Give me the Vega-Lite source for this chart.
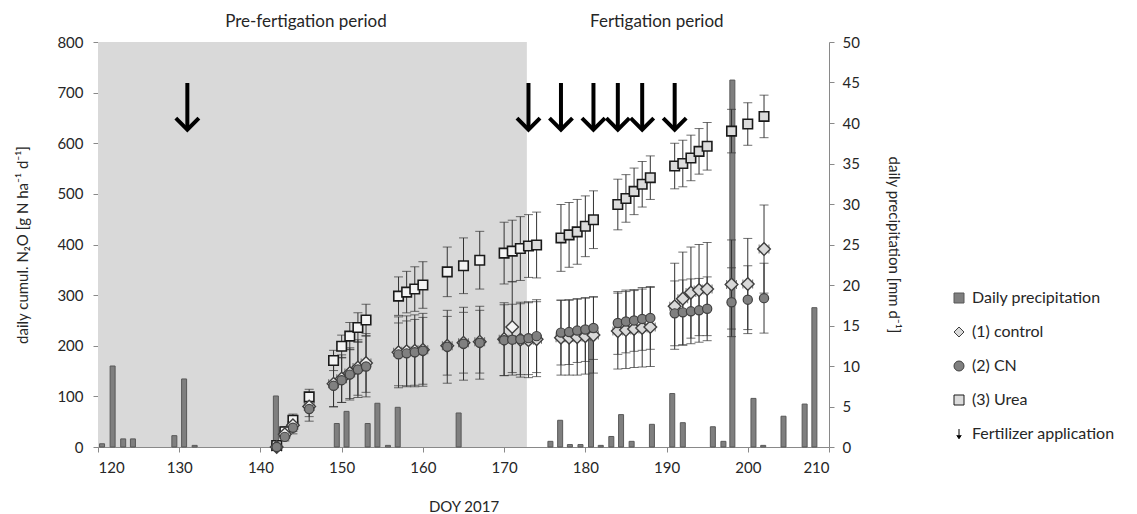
{
  "$schema": "https://vega.github.io/schema/vega-lite/v6.json",
  "width": 731,
  "height": 405,
  "autosize": {"type": "none"},
  "padding": {"left": 98, "top": 42, "right": 308, "bottom": 67},
  "background": "white",
  "config": {
    "font": "Lato",
    "view": {"stroke": null},
    "axis": {"grid": false, "labelFont": "Lato", "labelFontSize": 15, "titleFont": "Lato", "titleFontSize": 15, "titleFontWeight": "normal", "labelColor": "#262626", "titleColor": "#262626", "domainColor": "#898989", "tickColor": "#898989", "tickSize": 5},
    "legend": {"orient": "none", "legendX": 853, "legendY": 248, "padding": 0, "labelFont": "Lato", "labelFontSize": 16, "labelColor": "#262626", "symbolSize": 100, "rowPadding": 18, "labelOffset": 5, "symbolStrokeWidth": 1}
  },
  "datasets": {
    "periods": [{"start": 120, "end": 172.8}],
    "arrows": [{"day": 131}, {"day": 173}, {"day": 177}, {"day": 181}, {"day": 184}, {"day": 187}, {"day": 191}],
    "labels": [{"label": "Pre-fertigation period", "day": 145.6}, {"label": "Fertigation period", "day": 188.8}],
    "precip": [
      {"day": 120.5, "mm": 0.4}, {"day": 121.8, "mm": 10}, {"day": 123.1, "mm": 1}, {"day": 124.3, "mm": 1},
      {"day": 129.4, "mm": 1.4}, {"day": 130.6, "mm": 8.4}, {"day": 131.9, "mm": 0.2}, {"day": 141.9, "mm": 6.3},
      {"day": 149.4, "mm": 2.9}, {"day": 150.6, "mm": 4.4}, {"day": 153.2, "mm": 2.9}, {"day": 154.4, "mm": 5.4},
      {"day": 155.7, "mm": 0.2}, {"day": 156.9, "mm": 4.9}, {"day": 164.4, "mm": 4.2}, {"day": 175.7, "mm": 0.7},
      {"day": 176.9, "mm": 3.3}, {"day": 178.1, "mm": 0.3}, {"day": 179.4, "mm": 0.3}, {"day": 180.7, "mm": 13.6},
      {"day": 181.9, "mm": 0.2}, {"day": 183.2, "mm": 1.3}, {"day": 184.4, "mm": 4}, {"day": 185.7, "mm": 0.7},
      {"day": 188.2, "mm": 2.8}, {"day": 190.7, "mm": 6.6}, {"day": 192, "mm": 3}, {"day": 195.7, "mm": 2.5},
      {"day": 197, "mm": 0.7}, {"day": 198.1, "mm": 45.3}, {"day": 200.7, "mm": 6}, {"day": 201.9, "mm": 0.2},
      {"day": 204.4, "mm": 3.8}, {"day": 207, "mm": 5.3}, {"day": 208.2, "mm": 17.2}
    ],
    "n2o": [
      {"day": 142, "series": "(3) Urea", "value": 3, "err": 5},
      {"day": 143, "series": "(3) Urea", "value": 30, "err": 10},
      {"day": 144, "series": "(3) Urea", "value": 53, "err": 12},
      {"day": 146, "series": "(3) Urea", "value": 99, "err": 15},
      {"day": 149, "series": "(3) Urea", "value": 171, "err": 20},
      {"day": 150, "series": "(3) Urea", "value": 199, "err": 22},
      {"day": 151, "series": "(3) Urea", "value": 219, "err": 27},
      {"day": 152, "series": "(3) Urea", "value": 236, "err": 29},
      {"day": 153, "series": "(3) Urea", "value": 251, "err": 31},
      {"day": 157, "series": "(3) Urea", "value": 298, "err": 38},
      {"day": 158, "series": "(3) Urea", "value": 306, "err": 41},
      {"day": 159, "series": "(3) Urea", "value": 312, "err": 44},
      {"day": 160, "series": "(3) Urea", "value": 320, "err": 46},
      {"day": 163, "series": "(3) Urea", "value": 346, "err": 49},
      {"day": 165, "series": "(3) Urea", "value": 358, "err": 55},
      {"day": 167, "series": "(3) Urea", "value": 369, "err": 57},
      {"day": 170, "series": "(3) Urea", "value": 383, "err": 61},
      {"day": 171, "series": "(3) Urea", "value": 387, "err": 61},
      {"day": 172, "series": "(3) Urea", "value": 392, "err": 63},
      {"day": 173, "series": "(3) Urea", "value": 397, "err": 62},
      {"day": 174, "series": "(3) Urea", "value": 399, "err": 65},
      {"day": 177, "series": "(3) Urea", "value": 413, "err": 66},
      {"day": 178, "series": "(3) Urea", "value": 419, "err": 64},
      {"day": 179, "series": "(3) Urea", "value": 425, "err": 64},
      {"day": 180, "series": "(3) Urea", "value": 436, "err": 60},
      {"day": 181, "series": "(3) Urea", "value": 449, "err": 57},
      {"day": 184, "series": "(3) Urea", "value": 479, "err": 50},
      {"day": 185, "series": "(3) Urea", "value": 491, "err": 47},
      {"day": 186, "series": "(3) Urea", "value": 505, "err": 46},
      {"day": 187, "series": "(3) Urea", "value": 519, "err": 45},
      {"day": 188, "series": "(3) Urea", "value": 532, "err": 43},
      {"day": 191, "series": "(3) Urea", "value": 555, "err": 45},
      {"day": 192, "series": "(3) Urea", "value": 560, "err": 46},
      {"day": 193, "series": "(3) Urea", "value": 571, "err": 45},
      {"day": 194, "series": "(3) Urea", "value": 584, "err": 45},
      {"day": 195, "series": "(3) Urea", "value": 594, "err": 47},
      {"day": 198, "series": "(3) Urea", "value": 624, "err": 43},
      {"day": 200, "series": "(3) Urea", "value": 638, "err": 42},
      {"day": 202, "series": "(3) Urea", "value": 653, "err": 42},
      {"day": 142, "series": "(2) CN", "value": 0, "err": 3},
      {"day": 143, "series": "(2) CN", "value": 20, "err": 8},
      {"day": 144, "series": "(2) CN", "value": 38, "err": 12},
      {"day": 146, "series": "(2) CN", "value": 75, "err": 24},
      {"day": 149, "series": "(2) CN", "value": 121, "err": 42},
      {"day": 150, "series": "(2) CN", "value": 132, "err": 44},
      {"day": 151, "series": "(2) CN", "value": 143, "err": 50},
      {"day": 152, "series": "(2) CN", "value": 153, "err": 55},
      {"day": 153, "series": "(2) CN", "value": 159, "err": 60},
      {"day": 157, "series": "(2) CN", "value": 183, "err": 62},
      {"day": 158, "series": "(2) CN", "value": 185, "err": 64},
      {"day": 159, "series": "(2) CN", "value": 187, "err": 65},
      {"day": 160, "series": "(2) CN", "value": 190, "err": 66},
      {"day": 163, "series": "(2) CN", "value": 198, "err": 72},
      {"day": 165, "series": "(2) CN", "value": 204, "err": 72},
      {"day": 167, "series": "(2) CN", "value": 206, "err": 72},
      {"day": 170, "series": "(2) CN", "value": 211, "err": 70},
      {"day": 171, "series": "(2) CN", "value": 212, "err": 70},
      {"day": 172, "series": "(2) CN", "value": 213, "err": 70},
      {"day": 173, "series": "(2) CN", "value": 215, "err": 72},
      {"day": 174, "series": "(2) CN", "value": 219, "err": 72},
      {"day": 177, "series": "(2) CN", "value": 226, "err": 64},
      {"day": 178, "series": "(2) CN", "value": 227, "err": 64},
      {"day": 179, "series": "(2) CN", "value": 230, "err": 63},
      {"day": 180, "series": "(2) CN", "value": 232, "err": 63},
      {"day": 181, "series": "(2) CN", "value": 235, "err": 62},
      {"day": 184, "series": "(2) CN", "value": 245, "err": 62},
      {"day": 185, "series": "(2) CN", "value": 248, "err": 62},
      {"day": 186, "series": "(2) CN", "value": 250, "err": 61},
      {"day": 187, "series": "(2) CN", "value": 253, "err": 62},
      {"day": 188, "series": "(2) CN", "value": 255, "err": 62},
      {"day": 191, "series": "(2) CN", "value": 264, "err": 64},
      {"day": 192, "series": "(2) CN", "value": 266, "err": 64},
      {"day": 193, "series": "(2) CN", "value": 268, "err": 64},
      {"day": 194, "series": "(2) CN", "value": 270, "err": 63},
      {"day": 195, "series": "(2) CN", "value": 273, "err": 63},
      {"day": 198, "series": "(2) CN", "value": 286, "err": 68},
      {"day": 200, "series": "(2) CN", "value": 291, "err": 67},
      {"day": 202, "series": "(2) CN", "value": 294, "err": 69},
      {"day": 142, "series": "(1) control", "value": 0, "err": 3, "xerr": 0.6},
      {"day": 143, "series": "(1) control", "value": 25, "err": 8, "xerr": 0.6},
      {"day": 144, "series": "(1) control", "value": 43, "err": 12, "xerr": 0.6},
      {"day": 146, "series": "(1) control", "value": 80, "err": 20, "xerr": 0.6},
      {"day": 149, "series": "(1) control", "value": 125, "err": 45, "xerr": 0.6},
      {"day": 150, "series": "(1) control", "value": 135, "err": 47, "xerr": 0.6},
      {"day": 151, "series": "(1) control", "value": 146, "err": 50, "xerr": 0.6},
      {"day": 152, "series": "(1) control", "value": 157, "err": 55, "xerr": 0.6},
      {"day": 153, "series": "(1) control", "value": 166, "err": 58, "xerr": 0.6},
      {"day": 157, "series": "(1) control", "value": 187, "err": 70, "xerr": 0.6},
      {"day": 158, "series": "(1) control", "value": 189, "err": 70, "xerr": 0.6},
      {"day": 159, "series": "(1) control", "value": 190, "err": 71, "xerr": 0.6},
      {"day": 160, "series": "(1) control", "value": 192, "err": 72, "xerr": 0.6},
      {"day": 163, "series": "(1) control", "value": 200, "err": 58, "xerr": 0.6},
      {"day": 165, "series": "(1) control", "value": 206, "err": 60, "xerr": 0.6},
      {"day": 167, "series": "(1) control", "value": 208, "err": 62, "xerr": 0.6},
      {"day": 170, "series": "(1) control", "value": 213, "err": 72, "xerr": 0.6},
      {"day": 171, "series": "(1) control", "value": 237, "err": 90, "xerr": 0},
      {"day": 172, "series": "(1) control", "value": 212, "err": 74, "xerr": 0.6},
      {"day": 173, "series": "(1) control", "value": 211, "err": 74, "xerr": 0.6},
      {"day": 174, "series": "(1) control", "value": 213, "err": 74, "xerr": 0.6},
      {"day": 177, "series": "(1) control", "value": 216, "err": 74, "xerr": 0.6},
      {"day": 178, "series": "(1) control", "value": 216, "err": 74, "xerr": 0.6},
      {"day": 179, "series": "(1) control", "value": 217, "err": 75, "xerr": 0.6},
      {"day": 180, "series": "(1) control", "value": 219, "err": 75, "xerr": 0.6},
      {"day": 181, "series": "(1) control", "value": 221, "err": 75, "xerr": 0.6},
      {"day": 184, "series": "(1) control", "value": 229, "err": 75, "xerr": 0.6},
      {"day": 185, "series": "(1) control", "value": 231, "err": 76, "xerr": 0.6},
      {"day": 186, "series": "(1) control", "value": 233, "err": 76, "xerr": 0.6},
      {"day": 187, "series": "(1) control", "value": 235, "err": 77, "xerr": 0.6},
      {"day": 188, "series": "(1) control", "value": 237, "err": 78, "xerr": 0.6},
      {"day": 191, "series": "(1) control", "value": 278, "err": 85, "xerr": 0.6},
      {"day": 192, "series": "(1) control", "value": 293, "err": 92, "xerr": 0.6},
      {"day": 193, "series": "(1) control", "value": 305, "err": 90, "xerr": 0.6},
      {"day": 194, "series": "(1) control", "value": 310, "err": 90, "xerr": 0.6},
      {"day": 195, "series": "(1) control", "value": 312, "err": 92, "xerr": 0.6},
      {"day": 198, "series": "(1) control", "value": 321, "err": 88, "xerr": 0.6},
      {"day": 200, "series": "(1) control", "value": 322, "err": 90, "xerr": 0.6},
      {"day": 202, "series": "(1) control", "value": 391, "err": 87, "xerr": 0.6}
    ]
  },
  "encoding": {
    "x": {"field": "day", "type": "quantitative", "scale": {"domain": [120, 210], "nice": false, "padding": 0}, "axis": {"values": [120, 130, 140, 150, 160, 170, 180, 190, 200, 210], "labelPadding": 8, "titlePadding": 24}, "title": "DOY 2017"}
  },
  "layer": [
    {
      "data": {"name": "periods"},
      "mark": {"type": "rect", "fill": "#d9d9d9"},
      "encoding": {
        "x": {"field": "start", "type": "quantitative", "scale": {"domain": [120, 210], "nice": false, "padding": 0}, "axis": {"values": [120, 130, 140, 150, 160, 170, 180, 190, 200, 210], "labelPadding": 8, "titlePadding": 24}, "title": "DOY 2017"},
        "x2": {"field": "end"}
      }
    },
    {
      "data": {"name": "precip"},
      "mark": {"type": "bar", "orient": "vertical", "width": 5, "stroke": "#595959", "strokeWidth": 1},
      "encoding": {
        "y": {"field": "mm", "type": "quantitative", "scale": {"domain": [0, 50], "nice": false}, "axis": {"orient": "right", "values": [0, 5, 10, 15, 20, 25, 30, 35, 40, 45, 50], "labelPadding": 8, "titlePadding": 26}, "title": "daily precipitation [mm d⁻¹]"},
        "fill": {"datum": "Daily precipitation", "type": "nominal", "scale": {"domain": ["Daily precipitation", "(1) control", "(2) CN", "(3) Urea", "Fertilizer application"], "range": ["#7f7f7f", "#d9d9d9", "#808080", "#dcdcdc", "#000000"]}, "legend": {"title": null}}
      }
    },
    {
      "layer": [
        {
          "data": {"name": "n2o"},
          "mark": {"type": "errorbar", "color": "#333333", "thickness": 1, "ticks": {"size": 9}},
          "encoding": {
            "y": {"field": "value", "type": "quantitative", "scale": {"domain": [0, 800], "nice": false}, "axis": {"orient": "left", "values": [0, 100, 200, 300, 400, 500, 600, 700, 800], "labelPadding": 10, "titlePadding": 26}, "title": "daily cumul. N₂O  [g N ha⁻¹ d⁻¹]"},
            "yError": {"field": "err"}
          }
        },
        {
          "data": {"name": "n2o"},
          "transform": [{"filter": "datum.xerr > 0"}],
          "mark": {"type": "errorbar", "color": "#333333", "thickness": 1, "ticks": {"size": 9}},
          "encoding": {
            "x": {"field": "day", "type": "quantitative", "scale": {"domain": [120, 210], "nice": false, "padding": 0}, "title": "DOY 2017"},
            "xError": {"field": "xerr"},
            "y": {"field": "value", "type": "quantitative", "scale": {"domain": [0, 800], "nice": false}, "title": "daily cumul. N₂O  [g N ha⁻¹ d⁻¹]"}
          }
        },
        {
          "data": {"name": "n2o"},
          "transform": [{"filter": "datum.series === '(3) Urea'"}],
          "mark": {"type": "point", "filled": true, "size": 90, "strokeWidth": 1.6, "opacity": 1},
          "encoding": {
            "y": {"field": "value", "type": "quantitative", "scale": {"domain": [0, 800], "nice": false}, "title": "daily cumul. N₂O  [g N ha⁻¹ d⁻¹]"},
            "shape": {"field": "series", "type": "nominal", "scale": {"domain": ["Daily precipitation", "(1) control", "(2) CN", "(3) Urea", "Fertilizer application"], "range": ["square", "diamond", "circle", "square", "M0,-1L0,0.7M-0.45,0.25L0,0.95L0.45,0.25"]}, "legend": {"title": null}},
            "fill": {"condition": {"test": "datum.day < 173", "value": "#f4f4f4"}, "field": "series", "type": "nominal", "legend": {"title": null}},
            "stroke": {"field": "series", "type": "nominal", "scale": {"domain": ["Daily precipitation", "(1) control", "(2) CN", "(3) Urea", "Fertilizer application"], "range": ["#595959", "#3f3f3f", "#404040", "#1a1a1a", "#000000"]}, "legend": {"title": null}}
          }
        },
        {
          "data": {"name": "n2o"},
          "transform": [{"filter": "datum.series === '(1) control'"}],
          "mark": {"type": "point", "filled": true, "size": 160, "strokeWidth": 1.4, "opacity": 1},
          "encoding": {
            "y": {"field": "value", "type": "quantitative", "scale": {"domain": [0, 800], "nice": false}, "title": "daily cumul. N₂O  [g N ha⁻¹ d⁻¹]"},
            "shape": {"field": "series", "type": "nominal", "legend": {"title": null}},
            "fill": {"condition": {"test": "datum.day < 173", "value": "#f4f4f4"}, "field": "series", "type": "nominal", "legend": {"title": null}},
            "stroke": {"field": "series", "type": "nominal", "legend": {"title": null}}
          }
        },
        {
          "data": {"name": "n2o"},
          "transform": [{"filter": "datum.series === '(2) CN'"}],
          "mark": {"type": "point", "filled": true, "size": 85, "strokeWidth": 1.2, "opacity": 1},
          "encoding": {
            "y": {"field": "value", "type": "quantitative", "scale": {"domain": [0, 800], "nice": false}, "title": "daily cumul. N₂O  [g N ha⁻¹ d⁻¹]"},
            "shape": {"field": "series", "type": "nominal", "legend": {"title": null}},
            "fill": {"field": "series", "type": "nominal", "legend": {"title": null}},
            "stroke": {"field": "series", "type": "nominal", "legend": {"title": null}}
          }
        },
        {
          "data": {"name": "arrows"},
          "mark": {"type": "rule", "strokeWidth": 4, "color": "#000000"},
          "encoding": {
            "y": {"datum": 719, "type": "quantitative", "scale": {"domain": [0, 800], "nice": false}, "title": "daily cumul. N₂O  [g N ha⁻¹ d⁻¹]"},
            "y2": {"datum": 630}
          }
        },
        {
          "data": {"name": "arrows"},
          "mark": {"type": "point", "shape": "M-1,-1L0,0L1,-1", "filled": false, "size": 530, "strokeWidth": 4, "color": "#000000", "strokeJoin": "miter", "opacity": 1},
          "encoding": {
            "y": {"datum": 627, "type": "quantitative", "scale": {"domain": [0, 800], "nice": false}, "title": "daily cumul. N₂O  [g N ha⁻¹ d⁻¹]"}
          }
        },
        {
          "data": {"name": "labels"},
          "mark": {"type": "text", "fontSize": 17, "font": "Lato", "color": "#262626"},
          "encoding": {
            "y": {"datum": 840, "type": "quantitative", "scale": {"domain": [0, 800], "nice": false}, "title": "daily cumul. N₂O  [g N ha⁻¹ d⁻¹]"},
            "text": {"field": "label"}
          }
        }
      ]
    }
  ],
  "resolve": {"scale": {"y": "independent"}, "axis": {"y": "independent"}}
}
